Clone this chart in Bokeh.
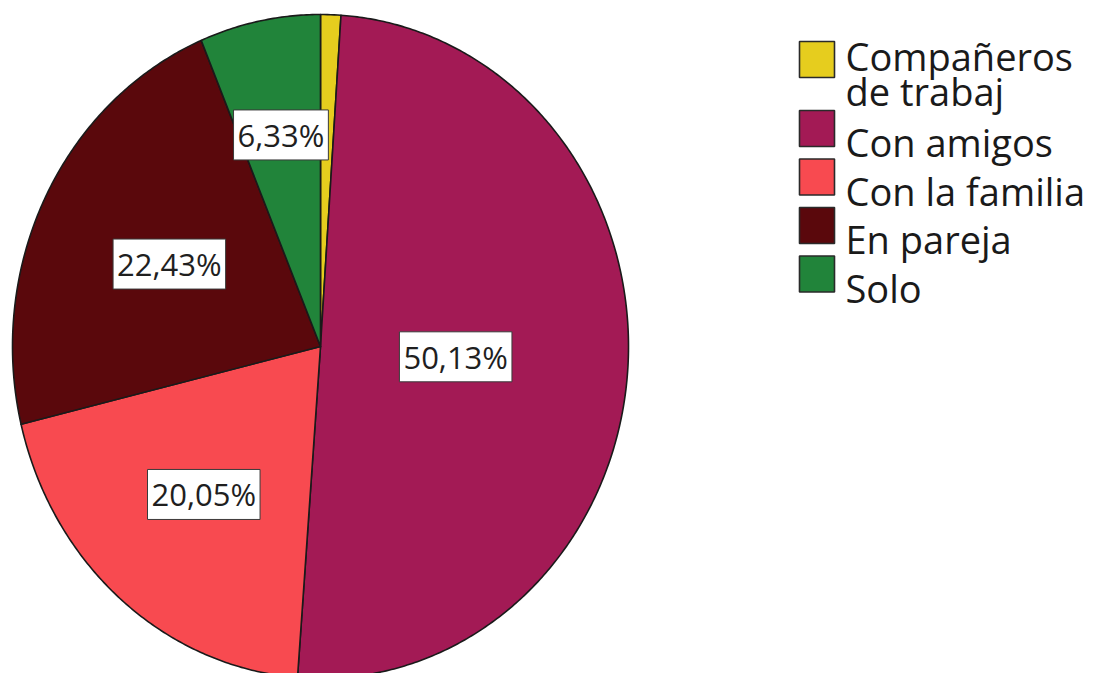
import numpy as np
from bokeh.plotting import figure
from bokeh.models import Range1d, ColumnDataSource
from bokeh.core.properties import value
from bokeh.embed import file_html
from bokeh.resources import INLINE

# ---- data ----
categories = ["Compañeros\nde trabaj", "Con amigos", "Con la familia", "En pareja", "Solo"]
percentages = [1.06, 50.13, 20.05, 22.43, 6.33]
value_labels = ["", "50,13%", "20,05%", "22,43%", "6,33%"]
colors = ["#E6CD1E", "#A31A55", "#F84A50", "#5A080C", "#21843A"]

# ---- layout (pixels, page coordinates) ----
W, H = 1101, 673
CX, CY, RX, RY = 320, 346, 308, 332
label_radius_frac = [0.0, 0.44, 0.585, 0.55, 0.65]

p = figure(width=W, height=H, output_backend="svg", toolbar_location=None,
           x_range=Range1d(0, W), y_range=Range1d(H, 0),
           x_axis_location=None, y_axis_location=None, min_border=0)
p.grid.visible = False
p.outline_line_color = None
p.background_fill_color = "white"
p.border_fill_color = "white"

# ---- pie slices (clockwise from 12 o'clock) ----
total = float(sum(percentages))
fr = np.array(percentages) / total
ends = np.cumsum(fr) * 2 * np.pi
starts = ends - fr * 2 * np.pi
xs, ys, lx, ly = [], [], [], []
for i, (a0, a1) in enumerate(zip(starts, ends)):
    n = max(3, int(np.degrees(a1 - a0) * 2))
    t = np.linspace(a0, a1, n)
    xs.append([CX] + list(CX + RX * np.sin(t)))
    ys.append([CY] + list(CY - RY * np.cos(t)))
    m = 0.5 * (a0 + a1)
    f = label_radius_frac[i]
    lx.append(CX + RX * f * np.sin(m))
    ly.append(CY - RY * f * np.cos(m))

p.patches(xs, ys, fill_color=colors, line_color="#1a1a1a", line_width=1.6,
          line_join="round")

# ---- value labels in white boxes ----
keep = [i for i, s in enumerate(value_labels) if s]
lab_src = ColumnDataSource(dict(x=[lx[i] for i in keep], y=[ly[i] for i in keep],
                                text=[value_labels[i] for i in keep]))
p.text(x="x", y="y", text="text", source=lab_src, text_align="center",
       text_baseline="middle", text_font=value("Open Sans"),
       text_font_size="31px", text_color="#1f1f1f",
       background_fill_color="white", border_line_color="#3a3a3a",
       border_line_width=1, padding=4)

# ---- legend (drawn manually) ----
SW_X, SW_W, SW_H = 816.5, 35, 36
y = 59.0
PITCH, EXTRA, LINE_GAP, CAP = 48.5, 20.5, 35.0, 27.0
sw_y, tx, ty, tt = [], [], [], []
for lab in categories:
    lines = lab.split("\n")
    sw_y.append(y)
    base0 = y + CAP / 2 - (len(lines) - 1) * LINE_GAP / 2
    for k, ln in enumerate(lines):
        tx.append(SW_X + SW_W / 2 + 11)
        ty.append(base0 + k * LINE_GAP)
        tt.append(ln)
    y += PITCH + (len(lines) - 1) * EXTRA

p.rect(x=[SW_X] * len(categories), y=sw_y, width=SW_W, height=SW_H,
       fill_color=colors, line_color="#2a2a2a", line_width=1.6)
p.text(x=tx, y=ty, text=tt, text_align="left", text_baseline="alphabetic",
       text_font=value("Open Sans"), text_font_size="38px", text_color="#1a1a1a")

open("out.html", "w").write(file_html(p, INLINE))
